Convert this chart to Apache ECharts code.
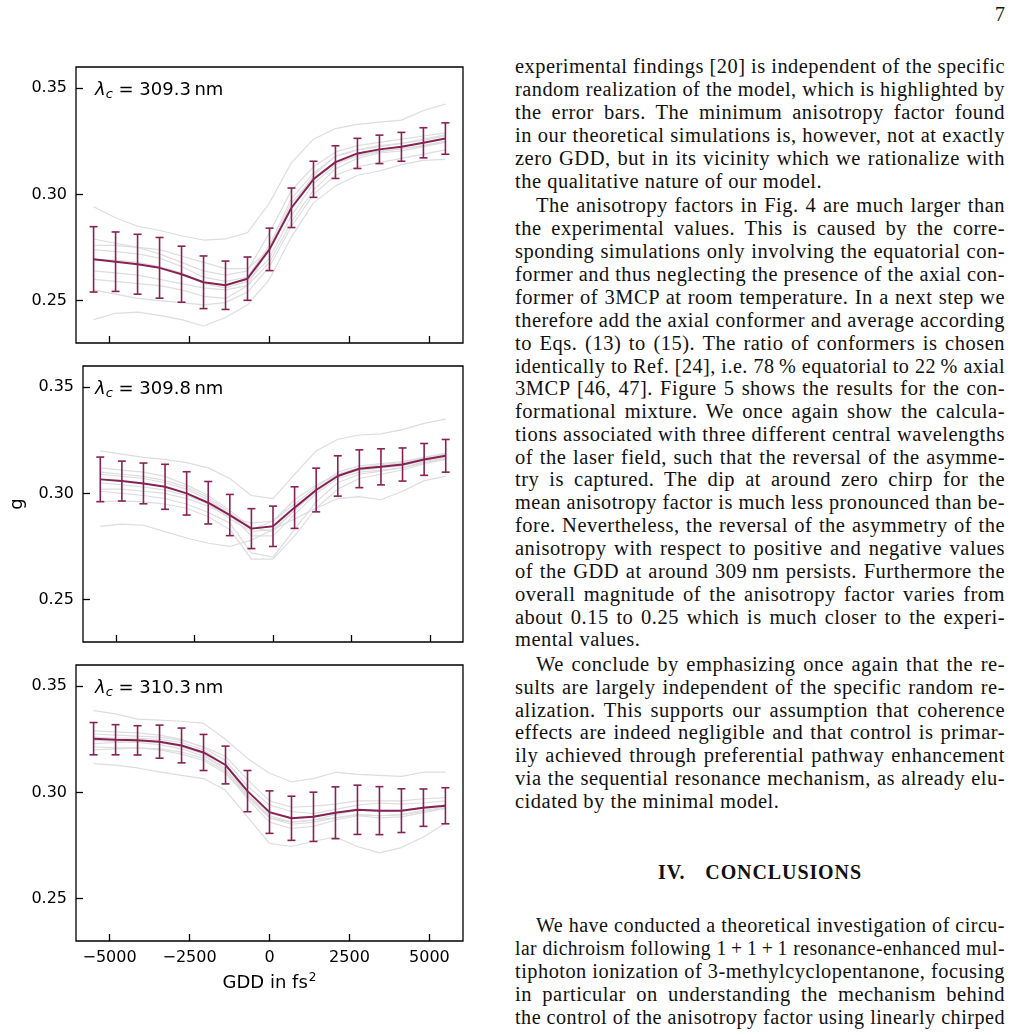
<!DOCTYPE html>
<html>
<head>
<meta charset="utf-8">
<script src="https://cdn.jsdelivr.net/npm/echarts@6/dist/echarts.min.js"></script>
<style>
  body { margin: 0; background: #fff; width: 1011px; height: 1035px; overflow: hidden; position: relative; }
  #chart { position: absolute; left: 0; top: 0; width: 500px; height: 1035px; }
  .ln { position: absolute; left: 515px; width: 490px; height: 23px; line-height: 23px;
        font-family: "Liberation Serif", serif; font-size: 20.5px; letter-spacing: 0.5px; color: #111; white-space: nowrap; }
  .ln span { display: inline-block; transform-origin: 0 50%; }
  .head { position: absolute; left: 515px; width: 490px; text-align: center; top: 861px;
          font-family: "Liberation Serif", serif; font-weight: bold; font-size: 20px; letter-spacing: 0.9px; word-spacing: 14px; color: #111; }
  .pg { position: absolute; left: 995px; top: 3px; font-family: "Liberation Serif", serif; font-size: 20px; color: #111; }
</style>
</head>
<body>
<div id="chart"></div>
<div class="pg">7</div>
<div class="head">IV. CONCLUSIONS</div>
<div id="text"></div>
<script>
// GDD grid (fs^2), 17 points
const gdd = [-5500, -4812.5, -4125, -3437.5, -2750, -2062.5, -1375, -687.5, 0,
             687.5, 1375, 2062.5, 2750, 3437.5, 4125, 4812.5, 5500]
const xTicks = [-5000, -2500, 0, 2500, 5000]
const yTicks = [0.25, 0.30, 0.35]
const wavelengths = ['309.3', '309.8', '310.3']

// lambda_c = 309.3 nm
const mean1 = [0.2694, 0.2683, 0.2671, 0.2654, 0.2624, 0.2586, 0.2572, 0.2603, 0.2741,
               0.2937, 0.3071, 0.3152, 0.3193, 0.3212, 0.3224, 0.3243, 0.3263]
const err1 = [0.0154, 0.0140, 0.0141, 0.0143, 0.0132, 0.0124, 0.0114, 0.0102, 0.0100,
              0.0093, 0.0085, 0.0077, 0.0071, 0.0067, 0.0068, 0.0071, 0.0074]
const runs1 = [
  [0.2942, 0.2890, 0.2850, 0.2830, 0.2805, 0.2785, 0.2790, 0.2820, 0.2960, 0.3150, 0.3260, 0.3310, 0.3330, 0.3340, 0.3350, 0.3395, 0.3425],
  [0.2410, 0.2440, 0.2445, 0.2430, 0.2410, 0.2380, 0.2420, 0.2480, 0.2600, 0.2800, 0.2960, 0.3040, 0.3090, 0.3110, 0.3140, 0.3160, 0.3165],
  [0.2790, 0.2770, 0.2750, 0.2720, 0.2680, 0.2640, 0.2620, 0.2640, 0.2820, 0.3020, 0.3130, 0.3200, 0.3230, 0.3245, 0.3260, 0.3275, 0.3290],
  [0.2740, 0.2730, 0.2720, 0.2700, 0.2660, 0.2610, 0.2590, 0.2610, 0.2760, 0.2980, 0.3100, 0.3180, 0.3210, 0.3225, 0.3240, 0.3255, 0.3275],
  [0.2690, 0.2690, 0.2680, 0.2660, 0.2630, 0.2580, 0.2560, 0.2590, 0.2700, 0.2900, 0.3050, 0.3140, 0.3185, 0.3205, 0.3215, 0.3230, 0.3250],
  [0.2640, 0.2630, 0.2620, 0.2600, 0.2580, 0.2560, 0.2550, 0.2570, 0.2680, 0.2870, 0.3020, 0.3120, 0.3170, 0.3195, 0.3205, 0.3225, 0.3245],
  [0.2600, 0.2590, 0.2580, 0.2570, 0.2550, 0.2520, 0.2510, 0.2570, 0.2750, 0.2960, 0.3080, 0.3150, 0.3180, 0.3200, 0.3215, 0.3230, 0.3250],
  [0.2550, 0.2530, 0.2510, 0.2500, 0.2490, 0.2480, 0.2490, 0.2540, 0.2660, 0.2850, 0.3000, 0.3090, 0.3130, 0.3150, 0.3170, 0.3190, 0.3210],
  [0.2760, 0.2760, 0.2750, 0.2740, 0.2710, 0.2680, 0.2650, 0.2650, 0.2740, 0.2940, 0.3090, 0.3180, 0.3210, 0.3230, 0.3240, 0.3260, 0.3280],
]

// lambda_c = 309.8 nm
const mean2 = [0.3066, 0.3058, 0.3047, 0.3031, 0.3000, 0.2956, 0.2898, 0.2834, 0.2845,
               0.2933, 0.3016, 0.3082, 0.3116, 0.3125, 0.3136, 0.3160, 0.3177]
const err2 = [0.0105, 0.0094, 0.0096, 0.0106, 0.0102, 0.0100, 0.0097, 0.0094, 0.0095,
              0.0098, 0.0103, 0.0095, 0.0089, 0.0085, 0.0078, 0.0075, 0.0077]
const runs2 = [
  [0.3200, 0.3185, 0.3170, 0.3160, 0.3145, 0.3120, 0.3070, 0.2990, 0.2975, 0.3090, 0.3200, 0.3255, 0.3275, 0.3280, 0.3300, 0.3330, 0.3350],
  [0.2845, 0.2855, 0.2850, 0.2820, 0.2790, 0.2765, 0.2750, 0.2780, 0.2830, 0.2880, 0.2930, 0.2975, 0.2985, 0.2970, 0.3010, 0.3060, 0.3080],
  [0.2960, 0.2965, 0.2960, 0.2950, 0.2930, 0.2890, 0.2830, 0.2690, 0.2690, 0.2800, 0.2930, 0.3020, 0.3070, 0.3090, 0.3110, 0.3140, 0.3160],
  [0.3120, 0.3110, 0.3100, 0.3080, 0.3040, 0.2990, 0.2920, 0.2840, 0.2820, 0.2920, 0.3020, 0.3090, 0.3120, 0.3130, 0.3140, 0.3165, 0.3180],
  [0.3090, 0.3080, 0.3070, 0.3050, 0.3020, 0.2970, 0.2900, 0.2800, 0.2800, 0.2900, 0.3000, 0.3070, 0.3100, 0.3110, 0.3120, 0.3150, 0.3170],
  [0.3050, 0.3040, 0.3030, 0.3015, 0.2990, 0.2950, 0.2880, 0.2820, 0.2830, 0.2920, 0.3010, 0.3080, 0.3110, 0.3120, 0.3130, 0.3155, 0.3175],
  [0.3020, 0.3020, 0.3010, 0.3000, 0.2975, 0.2940, 0.2890, 0.2860, 0.2870, 0.2950, 0.3030, 0.3100, 0.3130, 0.3140, 0.3150, 0.3170, 0.3190],
  [0.3100, 0.3090, 0.3080, 0.3060, 0.3030, 0.2980, 0.2910, 0.2830, 0.2870, 0.2970, 0.3040, 0.3090, 0.3120, 0.3135, 0.3145, 0.3170, 0.3185],
  [0.3010, 0.3000, 0.2990, 0.2975, 0.2950, 0.2910, 0.2860, 0.2720, 0.2700, 0.2830, 0.2960, 0.3050, 0.3090, 0.3105, 0.3120, 0.3145, 0.3165],
]

// lambda_c = 310.3 nm
const mean3 = [0.3253, 0.3248, 0.3245, 0.3239, 0.3221, 0.3188, 0.3129, 0.3006, 0.2907,
               0.2878, 0.2885, 0.2904, 0.2918, 0.2914, 0.2914, 0.2928, 0.2937]
const err3 = [0.0076, 0.0071, 0.0069, 0.0078, 0.0082, 0.0085, 0.0089, 0.0097, 0.0100,
              0.0104, 0.0116, 0.0122, 0.0116, 0.0113, 0.0103, 0.0088, 0.0085]
const runs3 = [
  [0.3385, 0.3370, 0.3345, 0.3340, 0.3335, 0.3325, 0.3250, 0.3160, 0.3090, 0.3050, 0.3065, 0.3095, 0.3085, 0.3080, 0.3075, 0.3095, 0.3095],
  [0.3135, 0.3128, 0.3115, 0.3097, 0.3080, 0.3065, 0.3010, 0.2885, 0.2760, 0.2745, 0.2770, 0.2790, 0.2745, 0.2715, 0.2740, 0.2790, 0.2855],
  [0.3290, 0.3285, 0.3280, 0.3270, 0.3250, 0.3210, 0.3150, 0.3030, 0.2940, 0.2910, 0.2900, 0.2920, 0.2940, 0.2950, 0.2945, 0.2950, 0.2960],
  [0.3260, 0.3255, 0.3255, 0.3250, 0.3235, 0.3200, 0.3130, 0.2990, 0.2880, 0.2850, 0.2860, 0.2880, 0.2895, 0.2890, 0.2895, 0.2915, 0.2930],
  [0.3230, 0.3235, 0.3240, 0.3235, 0.3215, 0.3180, 0.3110, 0.2980, 0.2880, 0.2860, 0.2870, 0.2895, 0.2915, 0.2910, 0.2915, 0.2930, 0.2940],
  [0.3215, 0.3210, 0.3210, 0.3205, 0.3190, 0.3160, 0.3100, 0.2970, 0.2860, 0.2830, 0.2840, 0.2870, 0.2890, 0.2880, 0.2885, 0.2905, 0.2925],
  [0.3275, 0.3270, 0.3265, 0.3260, 0.3245, 0.3215, 0.3170, 0.3060, 0.2960, 0.2930, 0.2935, 0.2945, 0.2960, 0.2960, 0.2960, 0.2970, 0.2975],
  [0.3245, 0.3240, 0.3235, 0.3225, 0.3205, 0.3170, 0.3110, 0.2990, 0.2900, 0.2880, 0.2890, 0.2905, 0.2920, 0.2915, 0.2915, 0.2930, 0.2940],
  [0.3200, 0.3205, 0.3210, 0.3200, 0.3180, 0.3150, 0.3090, 0.2980, 0.2890, 0.2860, 0.2870, 0.2880, 0.2895, 0.2890, 0.2895, 0.2910, 0.2925],
]

const panels = [
  { mean: mean1, err: err1, runs: runs1 },
  { mean: mean2, err: err2, runs: runs2 },
  { mean: mean3, err: err3, runs: runs3 },
]

const WINE = '#882255'
const FONT = 'DejaVu Sans'
const tops = [67, 366, 665]

function errRender(params, api) {
  const x = api.value(0)
  const lo = api.coord([x, api.value(1)])
  const hi = api.coord([x, api.value(2)])
  const hw = 4
  const style = { stroke: WINE, lineWidth: 1.6, fill: null }
  return {
    type: 'group',
    children: [
      { type: 'line', shape: { x1: lo[0], y1: lo[1], x2: hi[0], y2: hi[1] }, style },
      { type: 'line', shape: { x1: lo[0] - hw, y1: lo[1], x2: lo[0] + hw, y2: lo[1] }, style },
      { type: 'line', shape: { x1: hi[0] - hw, y1: hi[1], x2: hi[0] + hw, y2: hi[1] }, style },
    ],
  }
}

const series = []
panels.forEach((p, i) => {
  p.runs.forEach(r => {
    series.push({
      type: 'line', xAxisIndex: i, yAxisIndex: i, silent: true, symbol: 'none', z: 1,
      data: gdd.map((x, k) => [x, r[k]]),
      lineStyle: { color: '#dddddd', width: 1.2 },
    })
  })
  series.push({
    type: 'custom', xAxisIndex: i, yAxisIndex: i, z: 3,
    encode: { x: 0, y: [1, 2] },
    data: gdd.map((x, k) => [x, p.mean[k] - p.err[k], p.mean[k] + p.err[k]]),
    renderItem: errRender,
  })
  series.push({
    type: 'line', xAxisIndex: i, yAxisIndex: i, symbol: 'none', z: 4,
    data: gdd.map((x, k) => [x, p.mean[k]]),
    lineStyle: { color: WINE, width: 2 },
  })
})

const chart = echarts.init(document.getElementById('chart'))
chart.setOption({
  animation: false,
  grid: tops.map(t => ({
    left: 76, width: 387, top: t, height: 276,
    show: true, borderColor: '#000', borderWidth: 1.3, backgroundColor: 'transparent',
  })),
  xAxis: tops.map((t, i) => ({
    type: 'value', gridIndex: i, min: -6050, max: 6050,
    axisLine: { show: false, onZero: false },
    splitLine: { show: false },
    axisTick: { inside: true, length: 7, customValues: xTicks, lineStyle: { color: '#000', width: 1.3 } },
    axisLabel: {
      show: i === 2, customValues: xTicks, margin: 9,
      fontFamily: FONT, fontSize: 16, color: '#000',
      formatter: v => (v < 0 ? '\u2212' + Math.abs(v) : String(v)),
    },
    name: i === 2 ? '{a|GDD in fs}{b|2}' : '',
    nameLocation: 'middle', nameGap: 31,
    nameTextStyle: {
      rich: {
        a: { fontFamily: FONT, fontSize: 18, color: '#000', lineHeight: 22 },
        b: { fontFamily: FONT, fontSize: 12, color: '#000', lineHeight: 22, verticalAlign: 'top', padding: [0, 0, 9, 1] },
      },
    },
  })),
  yAxis: tops.map((t, i) => ({
    type: 'value', gridIndex: i, min: 0.23, max: 0.36,
    axisLine: { show: false, onZero: false },
    splitLine: { show: false },
    axisTick: { inside: true, length: 7, customValues: yTicks, lineStyle: { color: '#000', width: 1.3 } },
    axisLabel: {
      customValues: yTicks, margin: 9,
      fontFamily: FONT, fontSize: 16, color: '#000',
      formatter: v => v.toFixed(2),
    },
    name: i === 1 ? 'g' : '',
    nameLocation: 'middle', nameGap: 57,
    nameTextStyle: { fontFamily: FONT, fontSize: 18, color: '#000' },
  })),
  graphic: tops.map((t, i) => ({
    type: 'text', left: 95, top: t + 13, z: 10,
    style: {
      text: '{l|\u03bb}{c|c}{t| = ' + wavelengths[i] + '\u2009nm}',
      rich: {
        l: { fontFamily: FONT, fontStyle: 'italic', fontSize: 18, fill: '#000', lineHeight: 22 },
        c: { fontFamily: FONT, fontStyle: 'italic', fontSize: 13, fill: '#000', lineHeight: 22, verticalAlign: 'bottom', padding: [8, 0, 0, 0] },
        t: { fontFamily: FONT, fontSize: 18, fill: '#000', lineHeight: 22 },
      },
    },
  })),
  series,
})

// right-hand column text, one entry per printed line: [text, y-centre, kind]
// kind: 0 justified, 1 last line of paragraph, 2 indented first line
const lines = [
  ['experimental findings [20] is independent of the specific', 66, 0],
  ['random realization of the model, which is highlighted by', 89, 0],
  ['the error bars.  The minimum anisotropy factor found', 112, 0],
  ['in our theoretical simulations is, however, not at exactly', 135, 0],
  ['zero GDD, but in its vicinity which we rationalize with', 158, 0],
  ['the qualitative nature of our model.', 181, 1],
  ['The anisotropy factors in Fig. 4 are much larger than', 205, 2],
  ['the experimental values.  This is caused by the corre-', 228, 0],
  ['sponding simulations only involving the equatorial con-', 251, 0],
  ['former and thus neglecting the presence of the axial con-', 274, 0],
  ['former of 3MCP at room temperature. In a next step we', 297, 0],
  ['therefore add the axial conformer and average according', 320, 0],
  ['to Eqs. (13) to (15).  The ratio of conformers is chosen', 343, 0],
  ['identically to Ref. [24], i.e. 78\u2009% equatorial to 22\u2009% axial', 366, 0],
  ['3MCP [46, 47].  Figure 5 shows the results for the con-', 388, 0],
  ['formational mixture.  We once again show the calcula-', 411, 0],
  ['tions associated with three different central wavelengths', 434, 0],
  ['of the laser field, such that the reversal of the asymme-', 457, 0],
  ['try is captured.  The dip at around zero chirp for the', 479, 0],
  ['mean anisotropy factor is much less pronounced than be-', 502, 0],
  ['fore. Nevertheless, the reversal of the asymmetry of the', 525, 0],
  ['anisotropy with respect to positive and negative values', 548, 0],
  ['of the GDD at around 309\u2009nm persists. Furthermore the', 571, 0],
  ['overall magnitude of the anisotropy factor varies from', 594, 0],
  ['about 0.15 to 0.25 which is much closer to the experi-', 617, 0],
  ['mental values.', 639, 1],
  ['We conclude by emphasizing once again that the re-', 664, 2],
  ['sults are largely independent of the specific random re-', 687, 0],
  ['alization. This supports our assumption that coherence', 710, 0],
  ['effects are indeed negligible and that control is primar-', 732, 0],
  ['ily achieved through preferential pathway enhancement', 755, 0],
  ['via the sequential resonance mechanism, as already elu-', 778, 0],
  ['cidated by the minimal model.', 801, 1],
  ['We have conducted a theoretical investigation of circu-', 925, 2],
  ['lar dichroism following 1\u2009+\u20091\u2009+\u20091 resonance-enhanced mul-', 948, 0],
  ['tiphoton ionization of 3-methylcyclopentanone, focusing', 971, 0],
  ['in particular on understanding the mechanism behind', 994, 0],
  ['the control of the anisotropy factor using linearly chirped', 1017, 0],
]

const box = document.getElementById('text')
lines.forEach(([t, y, kind]) => {
  const div = document.createElement('div')
  div.className = 'ln'
  div.style.top = (y - 11.5) + 'px'
  const indent = kind === 2 ? 21 : 0
  div.style.left = (515 + indent) + 'px'
  const span = document.createElement('span')
  span.textContent = t.replace(/  /g, ' ')
  div.appendChild(span)
  box.appendChild(div)
  if (kind === 1) return
  const target = 490 - indent
  const w = span.getBoundingClientRect().width
  const gaps = (span.textContent.match(/ /g) || []).length
  if (w < target && gaps) {
    span.style.wordSpacing = ((target - w) / gaps) + 'px'
  } else if (w > target) {
    span.style.transform = 'scaleX(' + (target / w) + ')'
  }
})
</script>
</body>
</html>
